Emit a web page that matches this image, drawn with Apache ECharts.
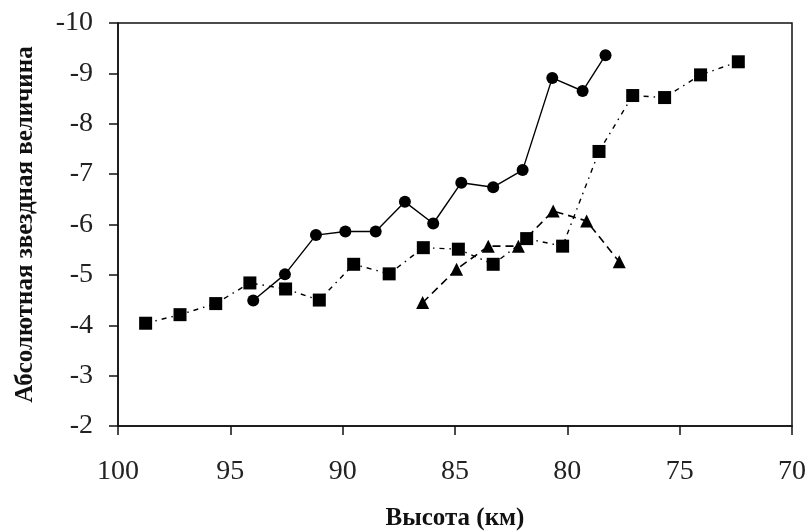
<!DOCTYPE html>
<html>
<head>
<meta charset="utf-8">
<script src="https://cdn.jsdelivr.net/npm/echarts@6/dist/echarts.min.js"></script>
<style>
  html, body { margin: 0; padding: 0; background: #fff; }
  #main { width: 806px; height: 531px; }
</style>
</head>
<body>
<div id="main"></div>
<script>
// высота (км) и абсолютная звездная величина, три кривые
const circleAlt = [93.98, 92.57, 91.19, 89.88, 88.53, 87.23, 85.97, 84.72, 83.30, 81.99, 80.67, 79.32, 78.30];
const circleMag = [-4.49, -5.01, -5.79, -5.86, -5.86, -6.45, -6.02, -6.83, -6.74, -7.08, -8.91, -8.65, -9.36];

const squareAlt = [98.77, 97.24, 95.65, 94.13, 92.54, 91.04, 89.51, 87.93, 86.41, 84.85, 83.30, 81.81, 80.21, 78.59, 77.09, 75.67, 74.07, 72.39];
const squareMag = [-4.04, -4.21, -4.43, -4.84, -4.72, -4.50, -5.21, -5.02, -5.54, -5.51, -5.21, -5.72, -5.57, -7.45, -8.56, -8.52, -8.97, -9.23];

const triAlt = [86.44, 84.93, 83.52, 82.18, 80.63, 79.14, 77.69];
const triMag = [-4.45, -5.11, -5.57, -5.57, -6.27, -6.07, -5.26];

const pairs = (xs, ys) => xs.map((x, i) => [x, ys[i]]);

const chart = echarts.init(document.getElementById('main'));
const serif = '"Liberation Serif", "DejaVu Serif", serif';

chart.setOption({
    animation: false,
    grid: {
        left: 118, right: 14, top: 23, bottom: 105,
        outerBoundsMode: 'none',
        show: true, borderColor: '#111', borderWidth: 1.5
    },
    xAxis: {
        type: 'value',
        inverse: true,
        min: 70, max: 100, interval: 5,
        name: 'Высота (км)',
        nameLocation: 'middle',
        nameGap: 80,
        nameTextStyle: { fontFamily: serif, fontWeight: 'bold', fontSize: 25, color: '#111' },
        axisLine: { lineStyle: { color: '#111', width: 1.5 } },
        axisTick: { length: 9, lineStyle: { color: '#111', width: 1.5 } },
        axisLabel: { fontFamily: serif, fontSize: 28, color: '#222', margin: 32 },
        splitLine: { show: false }
    },
    yAxis: {
        type: 'value',
        inverse: true,
        min: -10, max: -2, interval: 1,
        name: 'Абсолютная звездная величина',
        nameLocation: 'middle',
        nameGap: 80,
        nameTextStyle: { fontFamily: serif, fontWeight: 'bold', fontSize: 25, color: '#111' },
        axisLine: { show: true, lineStyle: { color: '#111', width: 1.5 } },
        axisTick: { show: true, length: 9, lineStyle: { color: '#111', width: 1.5 } },
        axisLabel: { fontFamily: serif, fontSize: 28, color: '#222', margin: 25 },
        splitLine: { show: false }
    },
    series: [
        {
            type: 'line',
            data: pairs(circleAlt, circleMag),
            symbol: 'circle', symbolSize: 12,
            itemStyle: { color: '#000' },
            lineStyle: { color: '#000', width: 1.4, type: 'solid' }
        },
        {
            type: 'line',
            data: pairs(squareAlt, squareMag),
            symbol: 'rect', symbolSize: 13,
            itemStyle: { color: '#000' },
            lineStyle: { color: '#000', width: 1.4, type: [5, 5, 1.5, 5] }
        },
        {
            type: 'line',
            data: pairs(triAlt, triMag),
            symbol: 'triangle', symbolSize: 13,
            itemStyle: { color: '#000' },
            lineStyle: { color: '#000', width: 1.6, type: [8, 5] }
        }
    ]
});
</script>
</body>
</html>
